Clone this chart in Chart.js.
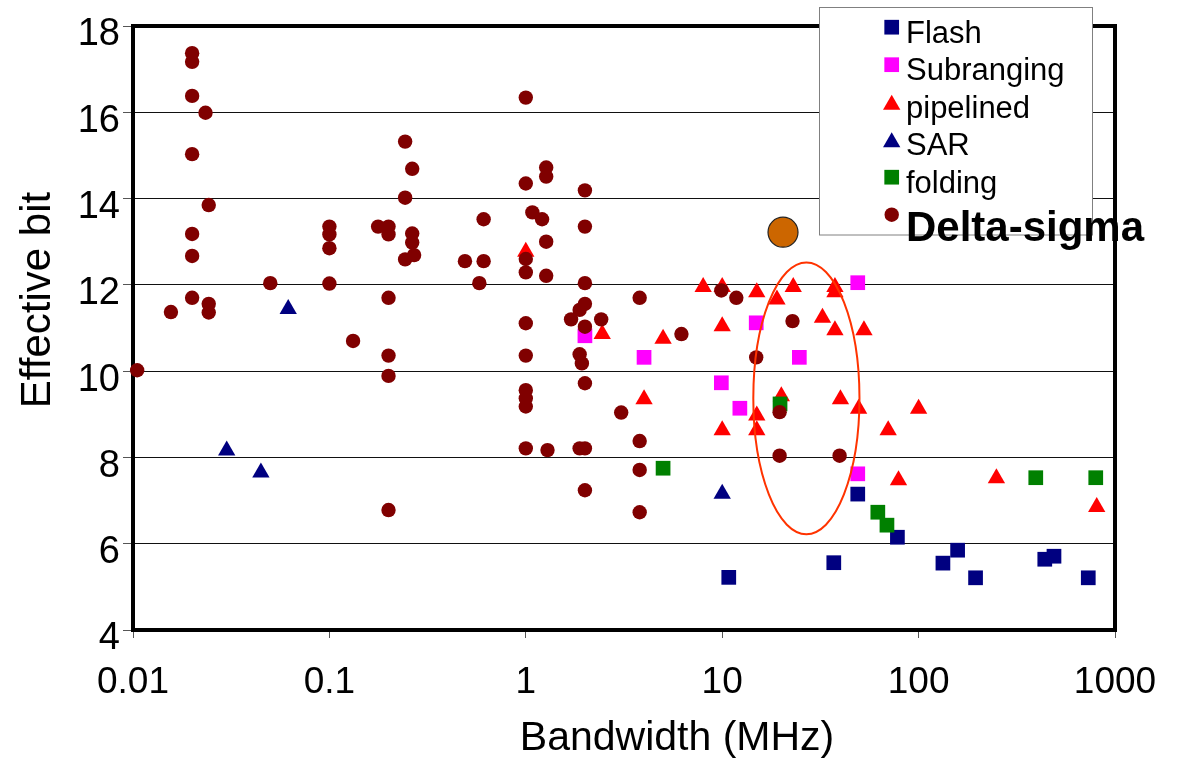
<!DOCTYPE html>
<html>
<head>
<meta charset="utf-8">
<script src="https://cdn.jsdelivr.net/npm/chart.js"></script>
<style>
  html, body { margin: 0; padding: 0; background: #fff; }
  #wrap { width: 1185px; height: 760px; position: relative; }
</style>
</head>
<body>
<div id="wrap"><canvas id="c" width="1185" height="760"></canvas></div>
<script>
// ---------- DATA ----------
const seriesNames = ['Flash', 'Subranging', 'pipelined', 'SAR', 'folding', 'Delta-sigma'];

const flashX = [10.8, 37, 49, 78, 133, 158, 195, 439, 489, 731];
const flashY = [5.22, 5.56, 7.15, 6.15, 5.55, 5.85, 5.21, 5.64, 5.71, 5.21];

const subX = [2, 4, 9.9, 12.3, 14.9, 24.7, 49, 49];
const subY = [10.82, 10.32, 9.73, 9.14, 11.12, 10.32, 12.05, 7.62];

const pipeX = [1, 2.45, 4, 5, 8, 10, 10, 10, 15, 15, 15, 19, 20, 23, 32.4, 37.5, 37.5, 37.5, 40, 49.5, 52.7, 70, 79, 100, 249, 807];
const pipeY = [12.77, 10.86, 9.35, 10.75, 11.95, 11.95, 11.04, 8.63, 11.83, 8.97, 8.63, 11.66, 9.42, 11.95, 11.24, 11.95, 11.83, 10.95, 9.35, 9.13, 10.95, 8.63, 7.47, 9.13, 7.52, 6.85];

const sarX = [0.03, 0.0448, 0.0617, 10];
const sarY = [8.16, 7.65, 11.44, 7.16];

const foldX = [5, 19.7, 62, 69, 395, 798];
const foldY = [7.75, 9.24, 6.73, 6.43, 7.53, 7.53];

const dsX = [0.0105, 0.0156, 0.02, 0.02, 0.02, 0.02, 0.02, 0.02, 0.02, 0.0234, 0.0243, 0.0243, 0.0243, 0.05,
  0.1, 0.1, 0.1, 0.1, 0.132, 0.177, 0.2, 0.2, 0.2, 0.2, 0.2, 0.2, 0.243, 0.243, 0.243, 0.264, 0.264, 0.264, 0.27,
  0.49, 0.58, 0.61, 0.61, 1, 1, 1, 1, 1, 1, 1, 1, 1, 1, 1.08, 1.21, 1.27, 1.27, 1.27, 1.27, 1.29, 1.7,
  1.88, 1.88, 1.88, 1.93, 2, 2, 2, 2, 2, 2, 2, 2, 2.42, 3.06, 3.8, 3.8, 3.8, 3.8, 6.2, 9.9, 11.8, 14.9,
  19.6, 19.6, 22.8, 39.6];
const dsY = [10.02, 11.37, 17.37, 17.17, 16.38, 15.03, 13.18, 12.67, 11.70, 15.99, 13.85, 11.56, 11.36, 12.04,
  13.35, 13.17, 12.85, 12.03, 10.70, 13.35, 13.35, 13.17, 11.70, 10.36, 9.89, 6.78, 15.32, 14.02, 12.59, 14.69, 13.19, 12.98, 12.69,
  12.55, 12.04, 13.52, 12.55, 16.34, 14.35, 12.6, 12.29, 11.11, 10.36, 9.56, 9.37, 9.18, 8.21, 13.68, 13.52, 14.72, 14.51, 13.0, 12.21, 8.17, 11.2,
  11.42, 10.39, 8.21, 10.18, 14.19, 13.35, 12.04, 11.56, 11.03, 9.72, 8.21, 7.24, 11.2, 9.04, 11.70, 8.38, 7.71, 6.73, 10.86, 11.87, 11.70, 10.32,
  9.05, 8.04, 11.16, 8.04];

const highlightX = [20.4];
const highlightY = [13.22];

// ellipse annotation extents in data units
const ellipseX = [14.4, 50];
const ellipseY = [6.22, 12.52];

const xTickValues = [0.01, 0.1, 1, 10, 100, 1000];
const xTickLabels = ['0.01', '0.1', '1', '10', '100', '1000'];
const yTickValues = [4, 6, 8, 10, 12, 14, 16, 18];
const yTickLabels = ['4', '6', '8', '10', '12', '14', '16', '18'];

const xTitle = 'Bandwidth (MHz)';
const yTitle = 'Effective bit';

// ---------- BUILD ----------
const pts = (xs, ys) => xs.map((x, i) => ({ x: x, y: ys[i] }));
const FONT = '"Liberation Sans", Arial, sans-serif';

const styles = [
  { color: '#000080', style: 'rect', r: 10.4 },
  { color: '#FF00FF', style: 'rect', r: 10.4 },
  { color: '#FF0000', style: 'triangle', r: 10 },
  { color: '#000080', style: 'triangle', r: 10 },
  { color: '#008000', style: 'rect', r: 10.4 },
  { color: '#800000', style: 'circle', r: 7.2 }
];
const seriesData = [pts(flashX, flashY), pts(subX, subY), pts(pipeX, pipeY), pts(sarX, sarY), pts(foldX, foldY), pts(dsX, dsY)];

const datasets = seriesNames.map((name, i) => ({
  label: name,
  data: seriesData[i],
  pointStyle: styles[i].style,
  pointRadius: styles[i].r,
  pointBackgroundColor: styles[i].color,
  pointBorderColor: styles[i].color,
  pointBorderWidth: 0,
  showLine: false,
  clip: false,
  order: 6 - i
}));
datasets.push({
  label: 'highlight',
  data: pts(highlightX, highlightY),
  pointStyle: 'circle',
  pointRadius: 15,
  pointBackgroundColor: '#CC6600',
  pointBorderColor: '#222222',
  pointBorderWidth: 1.2,
  showLine: false,
  clip: false,
  order: 0
});

function drawMarker(ctx, style, x, y, r, color) {
  ctx.fillStyle = color;
  ctx.beginPath();
  if (style === 'rect') {
    const s = r * Math.SQRT1_2;
    ctx.rect(x - s, y - s, 2 * s, 2 * s);
  } else if (style === 'triangle') {
    ctx.moveTo(x, y - r);
    ctx.lineTo(x + r * Math.sin(2 * Math.PI / 3), y + r / 2);
    ctx.lineTo(x - r * Math.sin(2 * Math.PI / 3), y + r / 2);
    ctx.closePath();
  } else {
    ctx.arc(x, y, r, 0, Math.PI * 2);
  }
  ctx.fill();
}

const decor = {
  id: 'decor',
  beforeDatasetsDraw(chart) {
    const { ctx, chartArea: a } = chart;
    ctx.save();
    ctx.strokeStyle = '#000';
    ctx.lineWidth = 4;
    ctx.strokeRect(a.left, a.top, a.right - a.left, a.bottom - a.top);
    ctx.restore();
  },
  afterDatasetsDraw(chart) {
    const { ctx } = chart;
    const xs = chart.scales.x, ys = chart.scales.y;
    const l = xs.getPixelForValue(ellipseX[0]), r = xs.getPixelForValue(ellipseX[1]);
    const t = ys.getPixelForValue(ellipseY[1]), b = ys.getPixelForValue(ellipseY[0]);
    ctx.save();
    ctx.strokeStyle = '#FF3300';
    ctx.lineWidth = 2;
    ctx.beginPath();
    ctx.ellipse((l + r) / 2, (t + b) / 2, (r - l) / 2, (b - t) / 2, 0, 0, Math.PI * 2);
    ctx.stroke();
    ctx.restore();
  },
  afterDraw(chart) {
    const { ctx } = chart;
    ctx.save();
    // axis titles
    ctx.fillStyle = '#000';
    ctx.font = '41px ' + FONT;
    ctx.textAlign = 'center';
    ctx.textBaseline = 'alphabetic';
    ctx.fillText(xTitle, 677, 750);
    ctx.save();
    ctx.translate(50, 300);
    ctx.rotate(-Math.PI / 2);
    ctx.font = '42px ' + FONT;
    ctx.fillText(yTitle, 0, 0);
    ctx.restore();

    // legend
    ctx.fillStyle = '#fff';
    ctx.fillRect(819.5, 7.5, 273, 227.5);
    ctx.strokeStyle = '#808080';
    ctx.lineWidth = 1;
    ctx.strokeRect(819.5, 7.5, 273, 227.5);
    const mx = 891.7, tx = 906;
    seriesNames.forEach((name, i) => {
      const cy = 27.2 + i * 37.5;
      const st = styles[i];
      const rr = st.style === 'circle' ? 7.2 : st.r;
      drawMarker(ctx, st.style, mx, st.style === 'triangle' ? cy + 2.5 : cy, rr, st.color);
      ctx.fillStyle = '#000';
      ctx.textAlign = 'left';
      if (i < 5) {
        ctx.font = '31px ' + FONT;
        ctx.fillText(name, tx, cy + 15.5);
      } else {
        ctx.font = 'bold 42px ' + FONT;
        ctx.fillText(name, tx, cy + 26);
      }
    });
    ctx.restore();
  }
};

new Chart(document.getElementById('c'), {
  type: 'scatter',
  data: { datasets: datasets },
  options: {
    responsive: false,
    animation: false,
    devicePixelRatio: 1,
    events: [],
    layout: { padding: { left: 0, top: 26, right: 70, bottom: 0 } },
    plugins: { legend: { display: false }, tooltip: { enabled: false } },
    scales: {
      x: {
        type: 'logarithmic',
        min: 0.01,
        max: 1000,
        afterBuildTicks: (s) => { s.ticks = xTickValues.map(v => ({ value: v })); },
        afterFit: (s) => { s.height = 130; },
        border: { display: false },
        grid: { drawOnChartArea: false, drawTicks: true, tickLength: 8, color: '#555', lineWidth: 1 },
        ticks: {
          autoSkip: false, maxRotation: 0, padding: 23, color: '#000',
          font: { family: FONT, size: 37 },
          callback: (v, i) => xTickLabels[i]
        }
      },
      y: {
        type: 'linear',
        min: 4,
        max: 18,
        afterBuildTicks: (s) => { s.ticks = yTickValues.map(v => ({ value: v })); },
        afterFit: (s) => { s.width = 133; },
        border: { display: false },
        grid: { drawOnChartArea: true, drawTicks: true, tickLength: 10, color: '#111', tickColor: '#555', lineWidth: 1 },
        ticks: {
          padding: 3, color: '#000', labelOffset: 9,
          font: { family: FONT, size: 38 },
          callback: (v, i) => yTickLabels[i]
        }
      }
    }
  },
  plugins: [decor]
});
</script>
</body>
</html>
